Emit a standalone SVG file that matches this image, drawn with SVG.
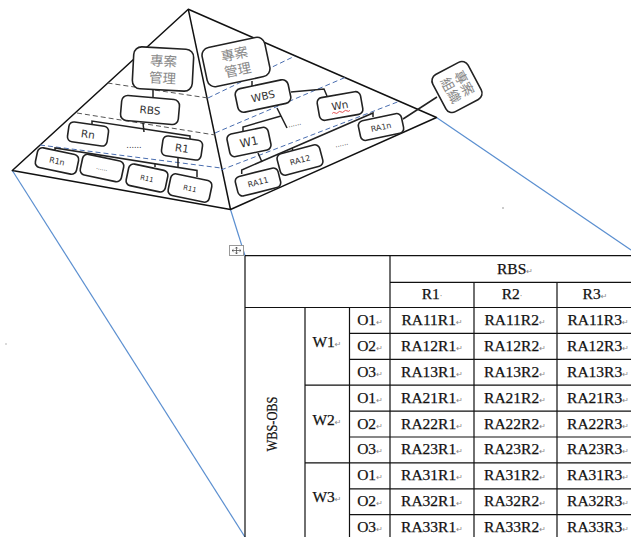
<svg xmlns="http://www.w3.org/2000/svg" width="631" height="537" viewBox="0 0 631 537">
<style>
.edge{stroke:#111;stroke-width:1.5;fill:none;stroke-linejoin:round}
.dg{stroke:#555;stroke-width:1;stroke-dasharray:5 3;fill:none}
.db{stroke:#4a6eb0;stroke-width:1;stroke-dasharray:5 3;fill:none}
.proj{stroke:#5b8fd0;stroke-width:1.2;fill:none}
.box{fill:#fff;stroke:#222;stroke-width:1.6}
.con{stroke:#222;stroke-width:1.5;fill:none}
.lb{font-family:"DejaVu Sans",sans-serif;fill:#333;text-anchor:middle}
.cj{font-family:"Noto Sans CJK TC","Noto Sans CJK SC",sans-serif;fill:#888;text-anchor:middle;font-size:13.5px}
.tl{stroke:#111;stroke-width:1.2;fill:none}
.tt{font-family:"Liberation Serif","Times New Roman",serif;font-size:15.5px;fill:#111;stroke:#111;stroke-width:0.25;text-anchor:middle}
.pm{font-family:"DejaVu Sans",sans-serif;font-size:8px;fill:#888;stroke:none}
</style>
<rect width="631" height="537" fill="#fff"/>
<g id="projection">
<line class="proj" x1="12.3" y1="170.5" x2="245" y2="537"/>
<line class="proj" x1="230.5" y1="209.5" x2="245" y2="255.7"/>
<line class="proj" x1="436.5" y1="117.5" x2="631" y2="250"/>
</g>
<g id="pyramid">
<polygon points="188.3,9.3 12.3,170.5 230.5,209.5 436.5,117.5" fill="#fff" class="edge"/>
<line class="edge" x1="188.3" y1="9.3" x2="230.5" y2="209.5"/>
<line class="dg" x1="107.5" y1="83" x2="208" y2="98"/>
<line class="dg" x1="77" y1="113" x2="215" y2="135"/>
<line class="db" x1="40" y1="145" x2="221" y2="168"/>
<line class="db" x1="208" y1="98" x2="295" y2="56"/>
<line class="db" x1="215" y1="133" x2="345" y2="77.5"/>
<line class="db" x1="221" y1="170" x2="400" y2="101"/>
</g>
<g id="connectors">
<line class="con" x1="153" y1="90" x2="153" y2="97"/>
<line class="con" x1="143" y1="123" x2="144" y2="132"/>
<polyline class="con" points="92,127 92,121 190,136 190,140"/>
<line class="con" x1="178" y1="158" x2="178" y2="167"/>
<polyline class="con" points="55,152 55,148 197,170.5 197,177"/>
<line class="con" x1="155" y1="163.8" x2="155" y2="167"/>
<line class="con" x1="252" y1="81" x2="252" y2="87"/>
<line class="con" x1="277" y1="108" x2="287" y2="128"/>
<polyline class="con" points="243,132 243,127 281,116"/>
<polyline class="con" points="291,92 324,89 327,96"/>
<line class="con" x1="258" y1="153" x2="262" y2="162"/>
<polyline class="con" points="241.7,174 241.7,170 373,113 373,117"/>
<line class="con" x1="292" y1="148" x2="293" y2="151"/>
<line class="con" x1="403" y1="119" x2="437" y2="97"/>
</g>
<g id="n-lpm" transform="translate(163,69) rotate(3)">
<rect class="box" x="-30" y="-21" width="60" height="42" rx="8"/>
<text class="cj" x="0" y="-3">專案</text><text class="cj" x="0" y="14">管理</text>
</g>
<g id="n-rbs" transform="translate(150,110) rotate(5)">
<rect class="box" x="-29" y="-12.5" width="58" height="25" rx="6"/>
<text class="lb" x="0" y="4" font-size="10.5">RBS</text>
</g>
<g id="n-rn" transform="translate(88,134) rotate(8)">
<rect class="box" x="-20" y="-10" width="40" height="20" rx="5"/>
<text class="lb" x="0" y="4" font-size="10.5">Rn</text>
</g>
<text class="lb" x="134" y="148" font-size="8">......</text>
<g id="n-r1" transform="translate(182,148) rotate(8)">
<rect class="box" x="-20" y="-10" width="40" height="20" rx="5"/>
<text class="lb" x="0" y="4" font-size="10.5">R1</text>
</g>
<g id="n-r1n" transform="translate(57,161) rotate(12)">
<rect class="box" x="-21" y="-10" width="42" height="20" rx="5"/>
<text class="lb" x="0" y="3" font-size="8">R1n</text>
</g>
<g id="n-rdots" transform="translate(102,168) rotate(12)">
<rect class="box" x="-21" y="-10.5" width="42" height="21" rx="5"/>
<text class="lb" x="0" y="2" font-size="6">......</text>
</g>
<g id="n-r11a" transform="translate(147,178) rotate(12)">
<rect class="box" x="-20" y="-11" width="40" height="22" rx="5"/>
<text class="lb" x="0" y="3" font-size="7">R11</text>
</g>
<g id="n-r11b" transform="translate(190,188) rotate(12)">
<rect class="box" x="-21" y="-11" width="42" height="22" rx="5"/>
<text class="lb" x="0" y="3" font-size="7">R11</text>
</g>
<g id="n-rpm" transform="translate(236,62) rotate(-12)">
<rect class="box" x="-32" y="-20" width="64" height="40" rx="8"/>
<text class="cj" x="0" y="-3">專案</text><text class="cj" x="0" y="13">管理</text>
</g>
<g id="n-wbs" transform="translate(263,96) rotate(-12)">
<rect class="box" x="-27" y="-12" width="54" height="24" rx="6"/>
<text class="lb" x="0" y="4" font-size="10.5">WBS</text>
</g>
<g id="n-wn" transform="translate(340,106) rotate(-10)">
<rect class="box" x="-22" y="-11.5" width="44" height="23" rx="5"/>
<text class="lb" x="0" y="3" font-size="10.5">Wn</text>
<path d="M-9,6 q1.5,-1.5 3,0 t3,0 t3,0 t3,0 t3,0 t3,0" stroke="#e03030" stroke-width="0.8" fill="none"/>
</g>
<text class="lb" x="295" y="126" font-size="7" transform="rotate(-12 295 126)">......</text>
<g id="n-w1" transform="translate(249,142) rotate(-12)">
<rect class="box" x="-21" y="-11.5" width="42" height="23" rx="5"/>
<text class="lb" x="0" y="4" font-size="11.5">W1</text>
</g>
<g id="n-ra11" transform="translate(258,182) rotate(-14)">
<rect class="box" x="-22" y="-10" width="44" height="20" rx="5"/>
<text class="lb" x="0" y="3" font-size="8">RA11</text>
</g>
<g id="n-ra12" transform="translate(300,160) rotate(-15)">
<rect class="box" x="-22" y="-11" width="44" height="22" rx="5"/>
<text class="lb" x="0" y="3" font-size="8">RA12</text>
</g>
<text class="lb" x="342" y="146" font-size="7" transform="rotate(-14 342 146)">......</text>
<g id="n-ra1n" transform="translate(381,127) rotate(-12)">
<rect class="box" x="-22" y="-10" width="44" height="20" rx="5"/>
<text class="lb" x="0" y="3" font-size="8">RA1n</text>
</g>
<g id="n-org" transform="translate(457,87) rotate(62)">
<rect class="box" x="-21" y="-20" width="42" height="40" rx="7"/>
<text class="cj" x="0" y="-3" font-size="12">專案</text><text class="cj" x="0" y="12" font-size="12">組織</text>
</g>
<circle cx="503" cy="208" r="0.8" fill="#888"/>
<circle cx="6" cy="344" r="0.8" fill="#aaa"/>
<g id="handle">
<rect x="229.5" y="245.5" width="14" height="10" fill="#fff" stroke="#999" stroke-width="1"/>
<path d="M232,250.5 h9 M236.5,247 v7 M232,250.5 l1.5,-1.2 M232,250.5 l1.5,1.2 M241,250.5 l-1.5,-1.2 M241,250.5 l-1.5,1.2 M236.5,247 l-1.2,1.5 M236.5,247 l1.2,1.5 M236.5,254 l-1.2,-1.5 M236.5,254 l1.2,-1.5" stroke="#444" stroke-width="0.7" fill="none"/>
</g>
<g id="table">
<path class="tl" d="M245,255.7 H631 M390,282.3 H631 M245,307.5 H631 M349.5,333.4 H631 M349.5,359.3 H631 M305,385.2 H631 M349.5,411.1 H631 M349.5,437 H631 M305,462.9 H631 M349.5,488.8 H631 M349.5,514.7 H631 M245,255.7 V537 M305,307.5 V537 M349.5,307.5 V537 M390,255.7 V537 M474,282.3 V537 M557,282.3 V537"/>
<text class="tt" x="515" y="274">RBS<tspan class="pm">↵</tspan></text>
<text class="tt" x="432" y="299">R1<tspan class="pm">·</tspan></text>
<text class="tt" x="512" y="299">R2<tspan class="pm">·</tspan></text>
<text class="tt" x="595" y="299">R3<tspan class="pm">↵</tspan></text>
<text class="tt" font-size="19" transform="translate(276.5,424) rotate(-90)" textLength="55" lengthAdjust="spacingAndGlyphs">WBS-OBS</text>
<text class="tt" x="327" y="347">W1<tspan class="pm">↵</tspan></text>
<text class="tt" x="327" y="425">W2<tspan class="pm">↵</tspan></text>
<text class="tt" x="327" y="502">W3<tspan class="pm">↵</tspan></text>
<g id="orows">
<text class="tt" x="370" y="325">O1<tspan class="pm">↵</tspan></text>
<text class="tt" x="370" y="351">O2<tspan class="pm">↵</tspan></text>
<text class="tt" x="370" y="377">O3<tspan class="pm">↵</tspan></text>
<text class="tt" x="370" y="403">O1<tspan class="pm">↵</tspan></text>
<text class="tt" x="370" y="429">O2<tspan class="pm">↵</tspan></text>
<text class="tt" x="370" y="454">O3<tspan class="pm">↵</tspan></text>
<text class="tt" x="370" y="480">O1<tspan class="pm">↵</tspan></text>
<text class="tt" x="370" y="506">O2<tspan class="pm">↵</tspan></text>
<text class="tt" x="370" y="532">O3<tspan class="pm">↵</tspan></text>
</g>
<g id="cells">
<text class="tt" x="432" y="325">RA11R1<tspan class="pm">↵</tspan></text>
<text class="tt" x="515" y="325">RA11R2<tspan class="pm">↵</tspan></text>
<text class="tt" x="598" y="325">RA11R3<tspan class="pm">↵</tspan></text>
<text class="tt" x="432" y="351">RA12R1<tspan class="pm">↵</tspan></text>
<text class="tt" x="515" y="351">RA12R2<tspan class="pm">↵</tspan></text>
<text class="tt" x="598" y="351">RA12R3<tspan class="pm">↵</tspan></text>
<text class="tt" x="432" y="377">RA13R1<tspan class="pm">↵</tspan></text>
<text class="tt" x="515" y="377">RA13R2<tspan class="pm">↵</tspan></text>
<text class="tt" x="598" y="377">RA13R3<tspan class="pm">↵</tspan></text>
<text class="tt" x="432" y="403">RA21R1<tspan class="pm">↵</tspan></text>
<text class="tt" x="515" y="403">RA21R2<tspan class="pm">↵</tspan></text>
<text class="tt" x="598" y="403">RA21R3<tspan class="pm">↵</tspan></text>
<text class="tt" x="432" y="429">RA22R1<tspan class="pm">↵</tspan></text>
<text class="tt" x="515" y="429">RA22R2<tspan class="pm">↵</tspan></text>
<text class="tt" x="598" y="429">RA22R3<tspan class="pm">↵</tspan></text>
<text class="tt" x="432" y="454">RA23R1<tspan class="pm">↵</tspan></text>
<text class="tt" x="515" y="454">RA23R2<tspan class="pm">↵</tspan></text>
<text class="tt" x="598" y="454">RA23R3<tspan class="pm">↵</tspan></text>
<text class="tt" x="432" y="480">RA31R1<tspan class="pm">↵</tspan></text>
<text class="tt" x="515" y="480">RA31R2<tspan class="pm">↵</tspan></text>
<text class="tt" x="598" y="480">RA31R3<tspan class="pm">↵</tspan></text>
<text class="tt" x="432" y="506">RA32R1<tspan class="pm">↵</tspan></text>
<text class="tt" x="515" y="506">RA32R2<tspan class="pm">↵</tspan></text>
<text class="tt" x="598" y="506">RA32R3<tspan class="pm">↵</tspan></text>
<text class="tt" x="432" y="532">RA33R1<tspan class="pm">↵</tspan></text>
<text class="tt" x="515" y="532">RA33R2<tspan class="pm">↵</tspan></text>
<text class="tt" x="598" y="532">RA33R3<tspan class="pm">↵</tspan></text>
</g>
</g>
</svg>
